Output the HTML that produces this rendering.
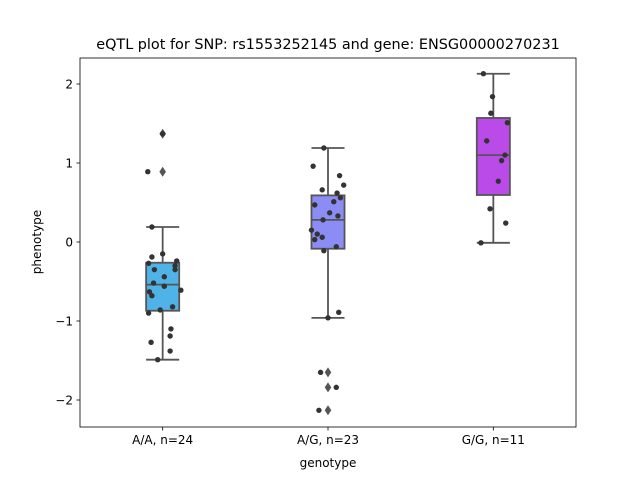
<!DOCTYPE html>
<html><head><meta charset="utf-8"><style>
body{margin:0;background:#fff;}
svg text{font-family:"DejaVu Sans","Liberation Sans",sans-serif;fill:#000;}
</style></head><body>
<svg id="chart" width="640" height="480" xmlns="http://www.w3.org/2000/svg">
<rect x="0" y="0" width="640" height="480" fill="#fff"/>
<text x="328" y="49" font-size="14.4" text-anchor="middle">eQTL plot for SNP: rs1553252145 and gene: ENSG00000270231</text>
<g id="marks"></g>
<rect x="80" y="58" width="496" height="369" fill="none" stroke="#000" stroke-width="0.8"/>
<text x="328" y="467" font-size="12" text-anchor="middle">genotype</text>
<text x="41" y="242" font-size="12" text-anchor="middle" transform="rotate(-90 41 242)">phenotype</text>
</svg>
<script>
const categories = ["A/A, n=24", "A/G, n=23", "G/G, n=11"];
const colors = ["#4fb3e8", "#8c8cf5", "#bb4be8"];
const valuesAA = [1.37,0.89,0.19,-0.15,-0.19,-0.24,-0.27,-0.30,-0.35,-0.35,-0.44,-0.52,-0.56,-0.61,-0.63,-0.68,-0.82,-0.86,-0.90,-1.10,-1.19,-1.27,-1.38,-1.49];
const valuesAG = [1.19,0.96,0.84,0.72,0.66,0.62,0.56,0.51,0.47,0.37,0.33,0.28,0.15,0.10,0.06,0.03,-0.06,-0.11,-0.89,-0.96,-1.65,-1.84,-2.13];
const valuesGG = [2.13,1.84,1.63,1.51,1.28,1.10,1.03,0.77,0.42,0.24,-0.01];
const jitterAA = [0,-0.18,-0.13,0,-0.13,0.17,-0.17,0.15,-0.1,0.15,0.02,-0.11,0.02,0.22,-0.16,-0.13,0.12,-0.03,-0.17,0.1,0.09,-0.14,0.09,-0.06];
const jitterAG = [-0.05,-0.18,0.14,0.19,-0.07,0.11,0.15,0.07,-0.16,0.02,0.12,-0.06,-0.2,-0.13,-0.07,-0.16,0.1,-0.05,0.13,0,-0.09,0.1,-0.11];
const jitterGG = [-0.12,-0.01,-0.03,0.17,-0.08,0.14,0.1,0.06,-0.04,0.15,-0.15];
const yTicks = [-2,-1,0,1,2];
const allValues = [valuesAA, valuesAG, valuesGG];
const allJitter = [jitterAA, jitterAG, jitterGG];

const NS = "http://www.w3.org/2000/svg";
const svg = document.getElementById("chart");
const g = document.getElementById("marks");
const X0 = 80, X1 = 576, Y0 = 58, Y1 = 427;
function yScale(v){ return 242 - v * 79; }
function xScale(i){ return X0 + (X1 - X0) * (i + 0.5) / categories.length; }
const bandW = (X1 - X0) / categories.length;
function mk(tag, attrs, parent){ const e = document.createElementNS(NS, tag); for (const k in attrs) e.setAttribute(k, attrs[k]); (parent || g).appendChild(e); return e; }
function pct(sorted, p){ const idx = (sorted.length - 1) * p; const lo = Math.floor(idx), hi = Math.ceil(idx); return sorted[lo] + (sorted[hi] - sorted[lo]) * (idx - lo); }

yTicks.forEach(t => {
  const y = yScale(t);
  const l = mk("line", {x1: X0 - 3.5, x2: X0, y1: y, y2: y, stroke: "#000", "stroke-width": 0.8}, svg);
  
  
  const tx = mk("text", {x: X0 - 7, y: y + 4.5, "font-size": 12, "text-anchor": "end"}, svg);
  tx.textContent = t < 0 ? "\u2212" + Math.abs(t) : String(t);
  
  
});
categories.forEach((c, i) => {
  const x = xScale(i);
  const l = mk("line", {x1: x, x2: x, y1: Y1, y2: Y1 + 3.5, stroke: "#000", "stroke-width": 0.8}, svg);
  
  
  const tx = mk("text", {x: x, y: Y1 + 17, "font-size": 12, "text-anchor": "middle"}, svg);
  tx.textContent = c;
  
  
});

const edge = "#555", bw = 0.2 * bandW;
allValues.forEach((vals, i) => {
  const s = vals.slice().sort((a, b) => a - b);
  const q1 = pct(s, 0.25), med = pct(s, 0.5), q3 = pct(s, 0.75), iqr = q3 - q1;
  const inl = s.filter(v => v >= q1 - 1.5 * iqr && v <= q3 + 1.5 * iqr);
  const wLo = inl[0], wHi = inl[inl.length - 1];
  const cx = xScale(i);
  const w1 = mk("line", {x1: cx, x2: cx, y1: yScale(q3), y2: yScale(wHi), stroke: edge, "stroke-width": 1.8});
  
  
  const w2 = mk("line", {x1: cx, x2: cx, y1: yScale(q1), y2: yScale(wLo), stroke: edge, "stroke-width": 1.8});
  
  
  [wHi, wLo].forEach(v => {
    const cap = mk("line", {x1: cx - bw / 2, x2: cx + bw / 2, y1: yScale(v), y2: yScale(v), stroke: edge, "stroke-width": 1.8});
    
    
  });
  const box = mk("rect", {x: cx - bw / 2, y: yScale(q3), width: bw, height: yScale(q1) - yScale(q3), fill: colors[i], stroke: edge, "stroke-width": 1.8});
  
  
  const m = mk("line", {x1: cx - bw / 2, x2: cx + bw / 2, y1: yScale(med), y2: yScale(med), stroke: edge, "stroke-width": 1.8});
  
  
  s.filter(v => v < wLo || v > wHi).forEach(v => {
    const y = yScale(v);
    const d = mk("polygon", {points: `${cx},${y - 5} ${cx + 3.3},${y} ${cx},${y + 5} ${cx - 3.3},${y}`, fill: edge});
    
    
  });
  vals.forEach((v, j) => {
    const p = mk("circle", {cx: cx + allJitter[i][j] * bandW * 0.5, cy: yScale(v), r: 2.7, fill: "#333"});
    
    
  });
});
</script>
</body></html>
